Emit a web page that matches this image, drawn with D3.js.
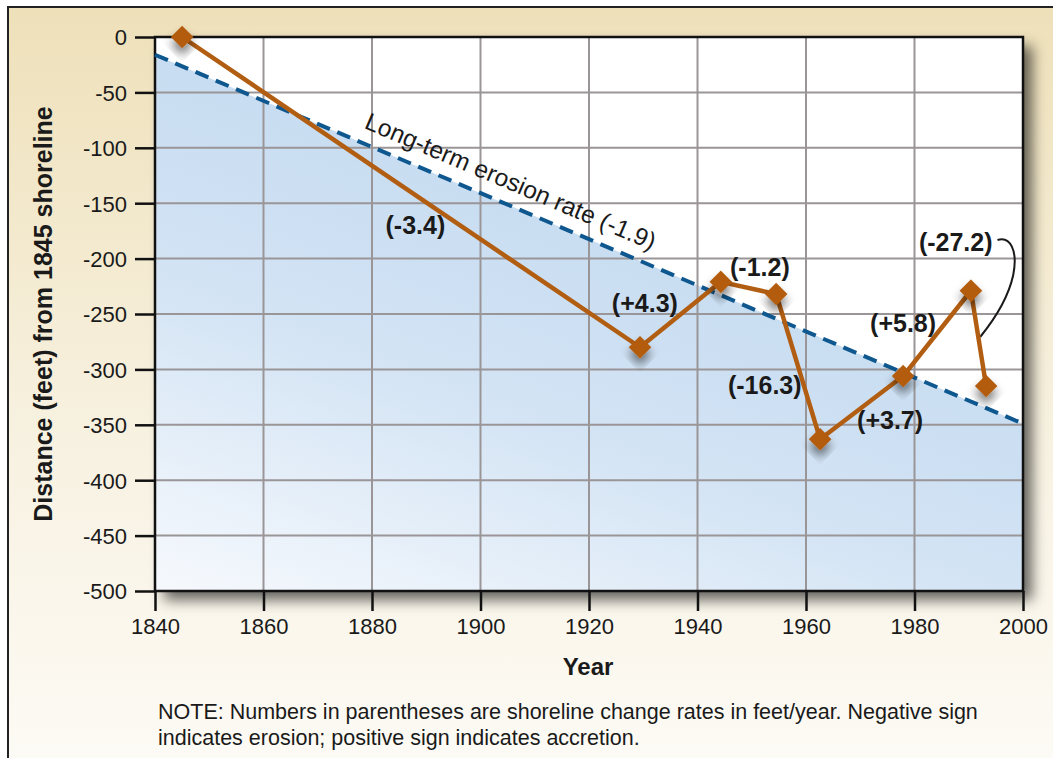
<!DOCTYPE html>
<html>
<head>
<meta charset="utf-8">
<script src="https://cdn.jsdelivr.net/npm/d3@7"></script>
<style>
  body { margin: 0; background: #fff; }
  svg text { font-family: "Liberation Sans", Arial, sans-serif; fill: #1a1a1a; }
</style>
</head>
<body>
<div id="chart"></div>
<script>
// shoreline positions (year, feet from 1845 shoreline)
const years = [1845, 1929.4, 1944.3, 1954.5, 1962.6, 1977.9, 1990.4, 1993.2];
const distances = [0, -280, -221, -232, -363, -306, -229, -315];

// long-term trend end points
const trendYears = [1840, 2000];
const trendValues = [-16, -349];

// segment rate labels
const rateLabels = ["(-3.4)", "(+4.3)", "(-1.2)", "(-16.3)", "(+3.7)", "(+5.8)", "(-27.2)"];
const rateYears = [1888, 1930.3, 1951.5, 1952.4, 1975.5, 1977.9, 1987.6];
const rateValues = [-170, -240, -208, -314, -346, -258, -185];

const yTicks = [0, -50, -100, -150, -200, -250, -300, -350, -400, -450, -500];
const xTicks = [1840, 1860, 1880, 1900, 1920, 1940, 1960, 1980, 2000];

const width = 1053, height = 758;
const margin = { top: 37, right: 30, bottom: 167, left: 155 };

const svg = d3.select("#chart").append("svg")
  .attr("width", width).attr("height", height);

const defs = svg.append("defs");

const bg = defs.append("linearGradient").attr("id", "bg")
  .attr("x1", 0).attr("y1", 0).attr("x2", 0).attr("y2", 1);
bg.append("stop").attr("offset", "0%").attr("stop-color", "#eee0b9");
bg.append("stop").attr("offset", "55%").attr("stop-color", "#f7f1e0");
bg.append("stop").attr("offset", "100%").attr("stop-color", "#fdfbf6");

const blue = defs.append("linearGradient").attr("id", "blue")
  .attr("x1", 0).attr("y1", 1).attr("x2", 0.6).attr("y2", 0);
blue.append("stop").attr("offset", "0%").attr("stop-color", "#f6f9fd");
blue.append("stop").attr("offset", "45%").attr("stop-color", "#d2e3f4");
blue.append("stop").attr("offset", "100%").attr("stop-color", "#bfd7ef");

const shadow = defs.append("filter").attr("id", "shadow")
  .attr("x", "-40%").attr("y", "-40%").attr("width", "200%").attr("height", "200%");
shadow.append("feDropShadow").attr("dx", 5).attr("dy", 5)
  .attr("stdDeviation", 5).attr("flood-color", "#000").attr("flood-opacity", 0.5);

const plotShadow = defs.append("filter").attr("id", "plotShadow")
  .attr("x", "-5%").attr("y", "-5%").attr("width", "115%").attr("height", "115%");
plotShadow.append("feDropShadow").attr("dx", 9).attr("dy", 9)
  .attr("stdDeviation", 7).attr("flood-color", "#000").attr("flood-opacity", 0.6);

// outer panel
svg.append("rect")
  .attr("x", 8).attr("y", 7).attr("width", width + 10).attr("height", height + 10)
  .attr("fill", "url(#bg)").attr("stroke", "#222").attr("stroke-width", 2);

const x = d3.scaleLinear().domain([1840, 2000]).range([margin.left, width - margin.right]);
const y = d3.scaleLinear().domain([0, -500]).range([margin.top, height - margin.bottom]);

const x0 = x.range()[0], x1 = x.range()[1];
const y0 = y.range()[0], y1 = y.range()[1];

// plot background with shadow
svg.append("rect")
  .attr("x", x0).attr("y", y0).attr("width", x1 - x0).attr("height", y1 - y0)
  .attr("fill", "#fff").attr("filter", "url(#plotShadow)");

// blue region under trend
const area = d3.area()
  .x((d, i) => x(trendYears[i]))
  .y0(y1)
  .y1((d, i) => y(trendValues[i]));
svg.append("path").datum(trendYears).attr("d", area).attr("fill", "url(#blue)");

// grid
svg.append("g").selectAll("line").data(xTicks.slice(1, -1)).join("line")
  .attr("x1", d => x(d)).attr("x2", d => x(d)).attr("y1", y0).attr("y2", y1)
  .attr("stroke", "#9a9597").attr("stroke-width", 2);
svg.append("g").selectAll("line").data(yTicks.slice(1, -1)).join("line")
  .attr("x1", x0).attr("x2", x1).attr("y1", d => y(d)).attr("y2", d => y(d))
  .attr("stroke", "#9a9597").attr("stroke-width", 2);

// frame
svg.append("rect")
  .attr("x", x0).attr("y", y0).attr("width", x1 - x0).attr("height", y1 - y0)
  .attr("fill", "none").attr("stroke", "#111").attr("stroke-width", 2.5);

// axes
const yAxis = svg.append("g").attr("transform", `translate(${x0},0)`)
  .call(d3.axisLeft(y).tickValues(yTicks).tickSize(20).tickPadding(8).tickFormat(d => d));
const xAxis = svg.append("g").attr("transform", `translate(0,${y1})`)
  .call(d3.axisBottom(x).tickValues(xTicks).tickSize(20).tickPadding(7).tickFormat(d3.format("d")));
[yAxis, xAxis].forEach(g => {
  g.select(".domain").remove();
  g.selectAll(".tick line").attr("stroke", "#111").attr("stroke-width", 2.5);
  g.selectAll(".tick text").attr("font-size", 22).attr("fill", "#1a1a1a")
    .style("font-family", '"Liberation Sans", Arial, sans-serif');
});
yAxis.selectAll(".tick text").attr("dy", "0.36em");

// trend line
svg.append("line")
  .attr("x1", x(trendYears[0])).attr("y1", y(trendValues[0]))
  .attr("x2", x(trendYears[1])).attr("y2", y(trendValues[1]))
  .attr("stroke", "#0e578f").attr("stroke-width", 4).attr("stroke-dasharray", "14,8");

// trend label along the line
const ang = Math.atan2(y(trendValues[1]) - y(trendValues[0]), x(trendYears[1]) - x(trendYears[0])) * 180 / Math.PI;
svg.append("text")
  .attr("transform", `translate(${x(1878.4)},${y(-82)}) rotate(${ang})`)
  .attr("font-size", 24.5).text("Long-term erosion rate (-1.9)");

// leader for (-27.2)
svg.append("path")
  .attr("d", `M${x(1995.3)},240 C${x(1997.6)},236 ${x(1999.1)},250 ${x(1998.2)},275 C${x(1997.2)},300 ${x(1993.9)},325 ${x(1992.1)},337`)
  .attr("fill", "none").attr("stroke", "#1a1a1a").attr("stroke-width", 2);

// shoreline series
const pts = years.map((yr, i) => [x(yr), y(distances[i])]);
svg.append("path").datum(pts)
  .attr("d", d3.line())
  .attr("fill", "none").attr("stroke", "#b25e12").attr("stroke-width", 4.5)
  .attr("stroke-linejoin", "round");

svg.append("g").selectAll("path").data(pts).join("path")
  .attr("transform", d => `translate(${d[0]},${d[1]}) rotate(45)`)
  .attr("d", "M-8,-8H8V8H-8Z")
  .attr("fill", "#b35c10").attr("filter", "url(#shadow)");

// rate labels
svg.append("g").selectAll("text").data(rateLabels).join("text")
  .attr("x", (d, i) => x(rateYears[i])).attr("y", (d, i) => y(rateValues[i]))
  .attr("text-anchor", "middle").attr("dy", "0.35em")
  .attr("font-size", 25).attr("font-weight", "bold").text(d => d);

// titles
svg.append("text")
  .attr("transform", `translate(52,${(y0 + y1) / 2}) rotate(-90)`)
  .attr("text-anchor", "middle").attr("font-size", 25).attr("font-weight", "bold")
  .text("Distance (feet) from 1845 shoreline");
svg.append("text")
  .attr("x", 588).attr("y", 675).attr("text-anchor", "middle")
  .attr("font-size", 24).attr("font-weight", "bold").text("Year");

// note
const note = svg.append("text").attr("font-size", 21.5);
note.append("tspan").attr("x", 158).attr("y", 719)
  .text("NOTE: Numbers in parentheses are shoreline change rates in feet/year. Negative sign");
note.append("tspan").attr("x", 158).attr("y", 745)
  .text("indicates erosion; positive sign indicates accretion.");
</script>
</body>
</html>
